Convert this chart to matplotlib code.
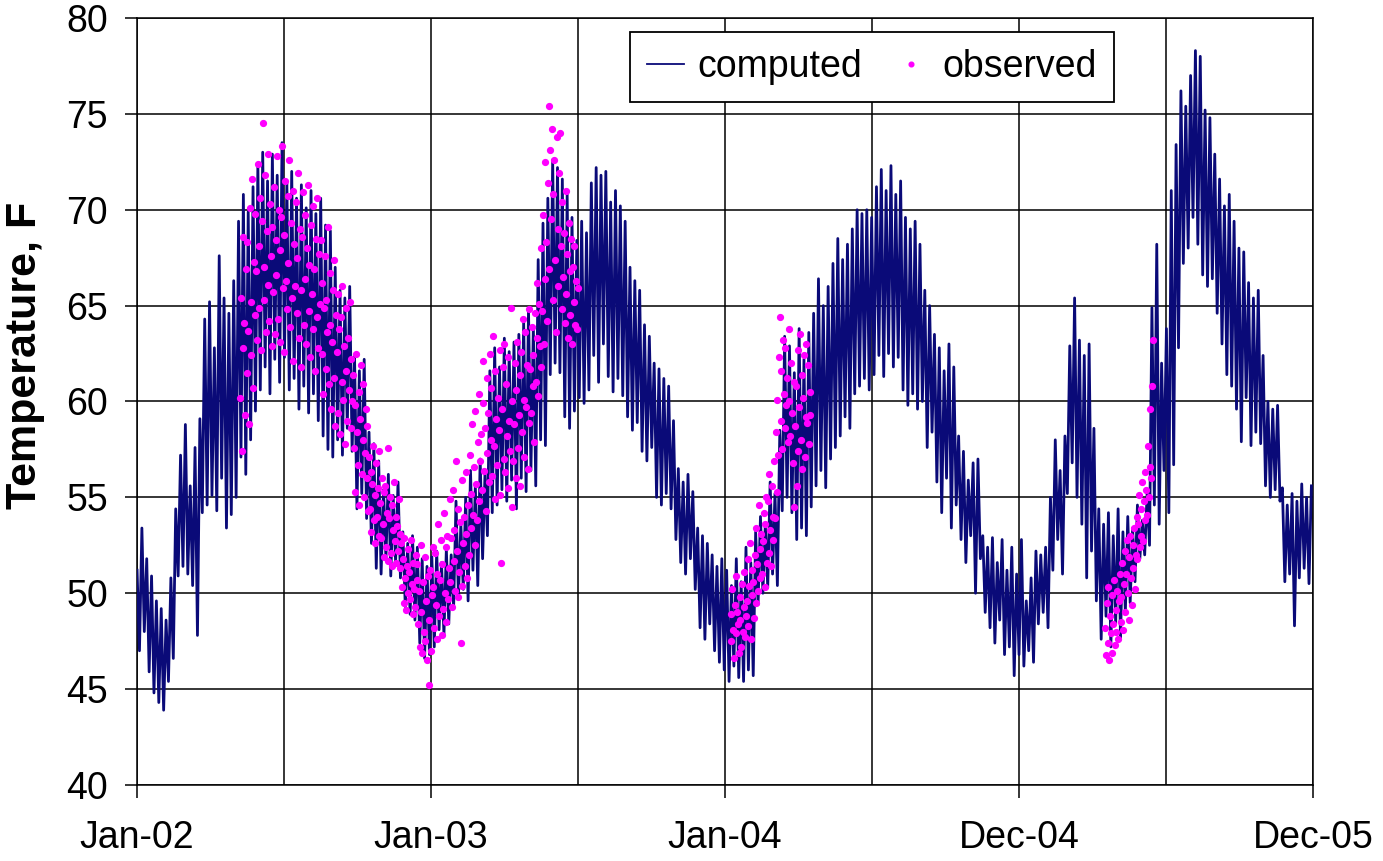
import numpy as np
import pandas as pd
import matplotlib
matplotlib.use("Agg")
import matplotlib.pyplot as plt
import matplotlib.dates as mdates

plt.rcParams['font.family'] = ['Liberation Sans', 'DejaVu Sans']

## computed temperature, F, one value every 3 days from 1 Jan 2002
comp_start = '2002-01-01'
comp_step = 3
computed = [
    51.2, 47.0, 53.4, 48.0, 51.8, 45.9, 50.9, 44.8, 49.6, 44.3,
    49.2, 43.9, 48.6, 45.4, 50.8, 46.6, 54.4, 50.9, 57.2, 51.4,
    58.8, 51.0, 55.6, 50.4, 57.6, 47.8, 59.1, 54.2, 64.3, 54.6,
    65.2, 55.1, 62.8, 54.3, 67.6, 56.0, 65.4, 53.4, 64.6, 54.1,
    66.3, 55.0, 69.4, 57.1, 70.8, 56.2, 69.9, 58.0, 71.2, 59.5,
    72.4, 60.6, 73.0, 61.8, 71.5, 60.4, 72.9, 62.2, 71.8, 61.0,
    73.5, 62.3, 71.4, 60.6, 72.0, 61.2, 70.6, 59.6, 71.3, 60.8,
    70.1, 59.4, 71.0, 60.4, 69.8, 59.0, 70.6, 58.2, 69.2, 57.5,
    68.9, 57.1, 67.0, 58.0, 65.8, 57.2, 65.4, 58.6, 66.0, 57.4,
    62.4, 54.4, 61.6, 55.2, 62.2, 53.9, 58.4, 52.6, 57.8, 51.3,
    56.9, 51.0, 55.4, 51.8, 56.2, 50.9, 55.1, 51.6, 55.8, 50.8,
    53.2, 49.3, 52.6, 48.9, 53.0, 48.6, 52.4, 47.4, 51.8, 46.6,
    51.4, 46.8, 51.9, 47.2, 52.2, 48.1, 51.6, 47.8, 52.3, 48.4,
    52.0, 49.2, 54.8, 49.8, 53.6, 50.2, 55.0, 49.6, 56.4, 51.2,
    55.6, 50.4, 57.0, 51.8, 56.3, 53.0, 61.6, 54.2, 62.8, 54.6,
    61.8, 55.4, 63.3, 54.8, 62.6, 55.9, 63.1, 54.4, 63.5, 56.0,
    64.2, 55.3, 64.8, 56.4, 63.9, 55.6, 67.4, 58.0, 69.3, 57.7,
    70.6, 61.4, 72.6, 62.0, 72.2, 61.5, 71.6, 59.2, 70.8, 58.6,
    69.6, 59.5, 68.4, 60.2, 69.4, 59.9, 68.8, 60.6, 71.4, 62.4,
    72.2, 61.0, 71.8, 63.0, 72.0, 61.3, 70.4, 60.5, 71.0, 61.2,
    70.2, 60.3, 69.4, 59.2, 67.0, 58.5, 66.3, 58.9, 65.8, 57.4,
    64.0, 56.9, 63.4, 57.6, 62.0, 55.0, 61.7, 54.6, 61.2, 55.2,
    60.8, 54.4, 59.0, 52.8, 56.5, 51.6, 55.8, 51.0, 56.2, 51.8,
    55.3, 50.2, 53.4, 48.2, 53.0, 47.6, 52.6, 48.4, 52.0, 47.0,
    51.4, 46.4, 51.8, 46.0, 51.2, 45.4, 50.4, 46.2, 51.8, 45.6,
    50.6, 45.4, 52.4, 46.0, 51.6, 45.7, 53.2, 49.4, 54.0, 50.0,
    53.6, 50.3, 55.8, 51.0, 55.2, 50.4, 58.5, 54.3, 63.4, 55.0,
    62.9, 54.2, 61.5, 52.8, 63.8, 53.4, 62.2, 53.0, 63.6, 54.5,
    64.6, 55.6, 66.4, 56.4, 65.0, 55.5, 66.0, 57.0, 67.2, 57.6,
    68.5, 58.2, 67.4, 59.2, 68.2, 58.6, 69.0, 60.4, 70.0, 60.8,
    69.8, 61.2, 70.0, 60.6, 69.6, 61.4, 71.2, 62.4, 72.1, 61.3,
    71.0, 62.5, 72.3, 61.8, 70.8, 62.3, 71.5, 60.6, 69.6, 59.8,
    69.0, 60.4, 69.4, 59.6, 68.2, 60.0, 65.8, 57.6, 65.0, 58.4,
    63.5, 55.8, 62.8, 54.2, 61.6, 56.0, 63.0, 53.4, 61.8, 54.6,
    58.2, 52.8, 57.4, 51.6, 55.9, 53.0, 56.8, 50.0, 57.0, 51.8,
    53.0, 49.0, 52.4, 48.2, 52.9, 47.4, 51.6, 48.6, 52.8, 46.8,
    51.2, 47.2, 52.4, 45.7, 51.0, 46.8, 52.8, 46.2, 49.6, 47.0,
    50.8, 46.4, 52.2, 48.4, 52.0, 49.0, 52.4, 48.2, 55.0, 51.2,
    58.0, 52.8, 56.4, 51.0, 58.2, 55.2, 62.9, 56.8, 65.4, 55.0,
    63.2, 53.6, 62.4, 50.8, 63.0, 52.2, 58.6, 49.6, 54.4, 47.6,
    53.6, 48.8, 54.2, 47.2, 53.0, 48.4, 54.4, 47.6, 53.2, 49.0,
    54.0, 49.5, 53.4, 50.6, 54.6, 51.8, 53.8, 52.0, 55.2, 52.5,
    64.9, 54.6, 68.2, 53.6, 62.0, 56.4, 63.8, 54.2, 71.0, 56.7,
    73.4, 62.8, 76.2, 67.2, 75.4, 68.0, 77.0, 69.6, 78.3, 68.2,
    78.0, 66.6, 75.2, 66.0, 74.8, 66.4, 72.9, 64.6, 71.6, 63.0,
    70.2, 61.4, 70.8, 60.8, 69.4, 59.6, 68.0, 57.9, 67.8, 60.2,
    66.2, 57.7, 65.4, 58.4, 65.8, 57.8, 62.4, 55.6, 60.0, 55.0,
    59.6, 55.4, 59.8, 54.8, 55.5, 50.6, 54.6, 51.0, 55.2, 48.3,
    54.8, 50.8, 55.7, 51.3, 55.0, 50.5, 55.6,
]

## observed temperature, F, daily, three sampling periods
obs1_start = '2002-05-09'
obs1 = [
    60.2, 65.4, 57.4, 68.6, 62.8, 64.1, 59.3, 66.9, 61.5, 68.3, 63.7, 58.8, 70.1, 65.2, 62.4, 71.6, 60.7, 67.3, 64.5, 69.8,
    66.8, 63.2, 72.4, 68.1, 64.9, 70.6, 62.7, 69.4, 74.5, 67.0, 65.3, 71.8, 63.6, 68.9, 72.9, 66.1, 64.2, 70.3, 67.6, 62.9,
    69.1, 65.7, 71.2, 63.5, 68.4, 66.6, 72.8, 64.3, 70.0, 67.9, 63.1, 69.6, 73.3, 65.9, 68.7, 62.6, 71.5, 66.3, 64.8, 70.7,
    67.2, 72.6, 63.9, 69.3, 65.4, 71.0, 62.1, 68.2, 66.0, 70.4, 64.6, 67.5, 71.9, 63.3, 69.0, 65.8, 61.8, 68.6, 70.9, 64.0,
    66.4, 69.7, 63.0, 68.0, 71.3, 64.7, 67.1, 62.3, 69.2, 65.6, 70.2, 63.8, 66.9, 61.6, 68.5, 64.4, 70.6, 62.8, 67.7, 65.1,
    68.4, 62.5, 66.2, 60.4, 64.9, 67.6, 61.7, 65.3, 63.6, 69.1, 60.9, 64.0, 66.7, 59.6, 63.1, 65.8, 61.2, 67.4, 58.7, 64.5,
    62.6, 65.6, 59.4, 63.8, 58.3, 64.4, 61.0, 66.0, 60.1, 62.9, 57.8, 64.9, 61.6, 59.0, 63.3, 60.6, 65.2, 58.6, 62.2, 60.0,
    61.4, 57.6, 59.8, 55.3, 62.5, 58.4, 56.7, 60.5, 54.6, 59.1, 61.9, 56.2, 58.0, 60.9, 55.0, 57.3, 59.6, 56.0, 58.7, 54.3,
    57.1, 54.4, 56.3, 53.2, 55.7, 57.7, 53.8, 55.1, 52.6, 56.8, 54.0, 55.5, 53.0, 57.4, 54.7, 52.9, 56.0, 53.6, 55.3, 51.9,
    55.6, 52.4, 54.2, 57.6, 51.7, 53.9, 55.0, 52.1, 54.6, 51.4, 53.3, 55.8, 52.7, 54.0, 51.6, 53.5, 52.2, 54.9, 51.3, 53.1,
    52.6, 50.3, 51.8, 49.5, 52.9, 50.8, 49.1, 51.4, 52.3, 50.0, 51.1, 49.7, 52.8, 50.5, 48.9, 51.6, 50.2, 49.3, 52.0, 50.7,
    51.5, 48.4, 50.1, 47.2, 52.5, 49.0, 46.9, 50.6, 48.0, 51.9, 47.5, 49.6, 46.5, 50.9, 45.2, 48.6, 51.2, 47.0, 49.9, 52.4,
    50.3, 48.2, 52.1, 49.4, 47.6, 51.0, 53.6, 48.8, 50.7, 52.8, 47.8, 51.5, 49.2, 54.2, 50.0, 48.5, 52.4, 53.0, 49.7, 51.3,
    54.9, 50.6, 52.9, 49.3, 55.4, 51.7, 53.3, 50.1, 56.9, 52.2, 49.8, 54.4, 51.1, 53.7, 47.4, 55.9, 50.4, 52.6, 54.0, 51.4,
    53.1, 56.3, 50.8, 54.6, 52.0, 57.2, 55.2, 53.4, 58.8, 54.1, 56.6, 52.5, 59.5, 55.7, 53.8, 57.9, 60.4, 54.8, 56.9, 58.3,
    55.4, 59.9, 62.1, 56.4, 58.6, 54.3, 61.2, 57.3, 59.4, 55.8, 62.5, 58.0, 60.7, 56.1, 63.4, 57.7, 54.9, 61.6, 59.1, 56.7,
    60.2, 58.5, 62.7, 55.1, 51.6, 59.6, 61.8, 57.0, 63.0, 56.3, 60.9, 58.2, 55.5, 62.3, 59.0, 57.4, 64.9, 54.5, 60.0, 56.9,
    58.8, 62.0, 56.0, 60.6, 63.1, 57.6, 59.3, 61.4, 55.6, 62.6, 58.4, 64.3, 60.1, 57.1, 63.6, 59.7, 61.9, 56.5, 64.8, 58.9,
    61.7, 59.4, 63.9, 60.8, 62.4, 57.9, 64.6, 61.0, 63.3, 66.2, 60.3, 65.1, 62.9, 68.0, 61.8, 64.7, 69.7, 63.0, 72.5, 66.4,
    68.3, 64.2, 71.4, 75.4, 66.9, 73.1, 69.5, 74.2, 65.3, 70.8, 72.6, 67.4, 63.6, 73.8, 69.0, 66.0, 71.9, 74.0, 68.1, 64.8,
    70.4, 66.5, 68.8, 64.1, 71.0, 65.6, 67.7, 63.3, 69.3, 66.8, 64.5, 68.5, 63.0, 67.0, 65.2, 68.1, 64.0, 66.3, 63.8, 65.9,
]
obs2_start = '2004-01-08'
obs2 = [
    48.9, 47.5, 50.2, 48.1, 46.6, 49.4, 50.9, 47.9, 49.0, 48.4, 46.9, 49.8, 48.6, 47.2, 50.5, 48.0, 49.3, 51.1, 47.7, 48.8,
    49.6, 51.8, 48.3, 50.4, 52.6, 47.6, 49.9, 51.2, 50.6, 48.7, 52.0, 53.4, 49.5, 51.5, 50.1, 54.6, 52.3, 50.8, 53.1, 51.0,
    52.7, 54.2, 50.3, 53.6, 55.0, 51.6, 54.8, 52.1, 56.2, 53.3, 51.4, 55.6, 54.0, 52.8, 56.9, 53.9, 58.4, 55.3, 60.1, 57.2,
    62.3, 64.4, 59.0, 61.6, 57.5, 63.2, 60.4, 58.6, 62.8, 59.8, 61.2, 57.9, 63.8, 60.0, 58.2, 62.0, 59.4, 56.8, 61.0, 54.5,
    58.7, 60.8, 55.6, 62.7, 57.4, 59.7, 63.5, 58.0, 61.4, 56.5, 60.2, 62.4, 57.1, 59.2, 63.0, 58.9, 61.9, 57.8, 60.5, 59.3,
]
obs3_start = '2005-04-17'
obs3 = [
    48.2, 46.8, 49.5, 47.4, 50.3, 46.5, 48.8, 47.9, 49.9, 46.9, 48.4, 50.7, 47.3, 49.1, 48.0, 50.1, 47.6, 49.6, 51.0, 48.5,
    49.8, 51.6, 48.1, 50.5, 52.2, 49.0, 51.0, 52.8, 50.0, 48.6, 51.9, 53.0, 50.8, 49.4, 52.5, 51.3, 53.4, 50.2, 52.0, 54.0,
    51.8, 53.6, 55.1, 52.4, 54.4, 53.0, 55.8, 52.7, 54.8, 56.3, 53.8, 55.4, 54.1, 57.7, 55.0, 56.6, 59.6, 56.0, 60.8, 63.2,
]

x_ticks = ['2002-01-01', '2003-01-01', '2004-01-01', '2004-12-31', '2005-12-31']
x_labels = ['Jan-02', 'Jan-03', 'Jan-04', 'Dec-04', 'Dec-05']

t_comp = pd.date_range(comp_start, periods=len(computed), freq='%dD' % comp_step)
t_obs1 = pd.date_range(obs1_start, periods=len(obs1), freq='D')
t_obs2 = pd.date_range(obs2_start, periods=len(obs2), freq='D')
t_obs3 = pd.date_range(obs3_start, periods=len(obs3), freq='D')
t_obs = t_obs1.append(t_obs2).append(t_obs3)
observed = obs1 + obs2 + obs3

fig = plt.figure(figsize=(13.83, 8.61), dpi=100)
ax = fig.add_axes([0.0991, 0.0883, 0.8503, 0.8908])

ax.plot(t_comp, computed, color='#0a0a78', lw=2.0, label='computed', zorder=3)
ax.plot(t_obs, observed, ls='none', marker='o', ms=4.2, mfc='#ff00ff', mec='#ff00ff',
        label='observed', zorder=4)

tick_num = mdates.datestr2num(x_ticks)
ax.set_xlim(tick_num[0], tick_num[-1])
ax.set_ylim(40, 80)
ax.set_xticks(tick_num)
ax.set_xticklabels(x_labels)
ax.set_xticks((tick_num[:-1] + tick_num[1:]) / 2, minor=True)
ax.set_yticks(np.arange(40, 81, 5))

ax.grid(True, which='both', axis='x', color='black', lw=1.1)
ax.grid(True, which='major', axis='y', color='black', lw=1.1)
ax.set_axisbelow(True)
for s in ax.spines.values():
    s.set_color('black')
    s.set_linewidth(1.1)

ax.tick_params(axis='both', which='major', direction='out', length=9, width=1.1,
               labelsize=27, colors='black')
ax.tick_params(axis='x', which='major', pad=16)
ax.tick_params(axis='y', which='major', pad=12)
ax.tick_params(axis='x', which='minor', length=0)

ax.set_ylabel('Temperature, F', fontsize=31, fontweight='bold')
ax.yaxis.set_label_coords(-0.078, 0.56)

leg = ax.legend(loc='upper left', bbox_to_anchor=(0.419, 0.982), ncol=2, fontsize=27,
                frameon=True, fancybox=False, edgecolor='black', framealpha=1,
                handlelength=1.0, handletextpad=0.35, columnspacing=0.8,
                borderpad=0.45, borderaxespad=0, markerscale=0.8)
leg.get_frame().set_linewidth(1.3)
leg.get_lines()[0].set_linewidth(1.3)

plt.savefig('out.png', dpi=100)
